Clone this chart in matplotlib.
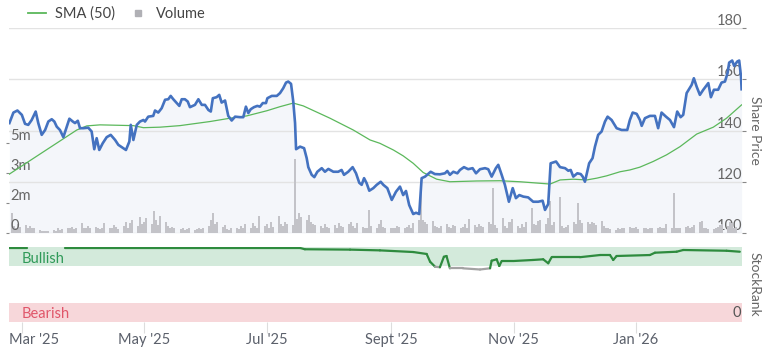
import numpy as np
import pandas as pd
import matplotlib
matplotlib.use("Agg")
import matplotlib.pyplot as plt
import matplotlib.dates as mdates
from matplotlib.collections import LineCollection
from matplotlib.lines import Line2D

plt.rcParams['font.family'] = ['Lato', 'DejaVu Sans']

# day offsets are counted from 1 Mar 2025
start = pd.Timestamp('2025-03-01')

price_day = [-6.3, -4.3, -2.3, -0.1, 1.5, 3.1, 4.8, 6.8, 8.1, 9.8, 11.5, 13.1, 14.8, 16.1, 17.3, 18.9,
             20.6, 22.3, 23.6, 25.3, 26.4, 27.8, 28.9, 30.6, 33.0, 34.7, 36.0, 37.2, 38.5, 40.2, 42.2,
             44.2, 46.4, 48.0, 49.7, 51.8, 53.5, 54.2, 55.5, 57.2, 58.8, 60.5, 61.3, 62.9, 65.4, 66.3,
             67.9, 69.6, 71.3, 72.9, 74.1, 75.4, 77.1, 78.4, 79.6, 81.2, 82.6, 83.7, 86.2, 87.9, 89.6,
             91.2, 92.9, 94.1, 95.1, 97.0, 98.3, 99.5, 101.2, 102.8, 104.5, 106.2, 108.7, 110.3, 111.6,
             112.8, 114.0, 115.6, 117.3, 118.6, 120.0, 121.6, 122.3, 124.5, 127.0, 128.6, 130.2, 131.6,
             132.7, 134.1, 135.2, 136.1, 136.6, 138.6, 140.6, 141.9, 142.7, 144.4, 145.7, 147.2, 149.4,
             151.0, 152.7, 155.2, 157.6, 159.3, 160.5, 162.6, 164.8, 166.5, 168.1, 169.3, 170.5, 171.8,
             173.1, 175.1, 176.8, 178.8, 180.1, 182.1, 184.3, 186.4, 188.4, 190.0, 191.4, 193.0, 195.0,
             196.4, 198.0, 199.2, 200.9, 203.7, 205.8, 208.3, 210.8, 212.0, 213.3, 215.0, 217.0, 218.3,
             220.3, 222.4, 224.6, 226.3, 228.3, 230.8, 232.4, 234.1, 236.2, 237.4, 239.1, 240.7, 242.7,
             244.6, 246.2, 247.9, 249.9, 252.3, 254.8, 257.3, 259.5, 260.7, 262.3, 263.5, 266.2, 268.2,
             270.7, 272.3, 273.5, 274.8, 276.8, 278.5, 279.5, 280.6, 282.7, 284.4, 285.6, 287.2, 288.9,
             290.6, 291.9, 293.9, 296.4, 298.9, 301.7, 303.0, 304.4, 306.4, 308.0, 308.9, 310.5, 313.0,
             315.5, 317.1, 318.8, 321.0, 323.0, 325.0, 326.6, 328.3, 329.6, 331.3, 333.8, 334.9, 336.3,
             337.9, 339.6, 342.1, 343.4, 344.9, 347.0, 348.7, 350.4, 351.7, 352.5, 354.0, 355.0, 356.5,
             357.5, 358.4, 358.7]
price = [142.9, 147.0, 147.8, 146.1, 142.6, 142.2, 144.1, 147.4, 142.9, 138.3, 140.2, 143.5, 144.4, 143.5,
         141.5, 140.2, 137.4, 141.5, 144.6, 143.5, 142.9, 143.8, 140.9, 140.9, 141.1, 139.6, 132.7, 137.0,
         132.4, 135.0, 137.4, 138.3, 136.3, 134.4, 133.5, 132.4, 135.7, 142.2, 136.3, 142.2, 143.5, 144.1,
         143.5, 145.4, 145.7, 147.8, 147.0, 148.7, 152.0, 152.2, 153.5, 152.2, 150.7, 149.6, 152.2, 152.2,
         151.3, 149.1, 150.0, 152.2, 150.0, 150.0, 148.0, 147.4, 152.6, 153.0, 153.9, 150.9, 151.7, 145.7,
         143.9, 145.4, 145.2, 145.2, 149.3, 146.8, 148.3, 149.1, 149.6, 149.3, 150.7, 150.7, 152.6, 153.5,
         153.5, 154.6, 156.5, 158.7, 159.1, 158.2, 151.3, 142.9, 132.7, 133.7, 133.1, 129.2, 125.7, 122.7,
         121.8, 123.9, 125.3, 123.9, 125.0, 123.9, 123.9, 124.6, 122.7, 123.9, 125.7, 123.3, 119.6, 118.8,
         121.4, 119.4, 116.5, 117.5, 118.8, 120.0, 118.8, 117.5, 112.9, 116.1, 118.1, 114.8, 116.4, 110.9,
         107.4, 107.9, 107.4, 121.4, 122.0, 123.9, 123.0, 122.9, 123.3, 124.2, 122.7, 123.9, 123.3, 124.6,
         125.7, 124.9, 125.3, 123.3, 124.9, 125.3, 124.9, 122.0, 125.3, 126.6, 122.7, 118.8, 112.2, 117.5,
         113.6, 114.8, 114.2, 113.9, 112.2, 112.2, 112.6, 109.0, 111.3, 127.2, 127.9, 125.7, 125.3, 124.3,
         124.6, 122.0, 123.3, 123.0, 122.0, 120.0, 127.2, 129.2, 133.7, 138.3, 139.6, 143.5, 145.4, 144.1,
         140.9, 140.2, 140.2, 144.1, 147.0, 146.5, 144.1, 141.8, 144.8, 145.7, 145.7, 140.9, 147.0, 145.4,
         144.1, 141.3, 147.4, 145.2, 146.1, 154.6, 157.8, 160.4, 157.1, 153.9, 155.9, 158.5, 153.0, 155.9,
         155.9, 158.7, 159.1, 162.4, 166.5, 167.3, 165.2, 166.9, 167.3, 161.1, 156.1]

sma_day = [-6.3, 27.3, 32.3, 38.9, 55.5, 60.5, 68.8, 78.7, 93.7, 103.7, 112.0, 122.0, 128.6, 135.2, 140.2,
           153.5, 165.1, 173.5, 178.4, 185.1, 190.0, 195.0, 200.0, 206.7, 213.3, 226.6, 238.2, 248.2,
           258.2, 263.2, 268.2, 274.8, 281.5, 286.5, 291.4, 298.1, 303.0, 308.0, 314.6, 321.3, 328.0,
           336.3, 344.6, 351.2, 358.7]
sma = [123.0, 140.2, 141.8, 142.2, 141.9, 141.1, 141.3, 141.9, 143.5, 144.8, 145.7, 147.7, 149.3, 150.7,
       149.6, 144.8, 140.2, 136.3, 135.0, 132.4, 130.1, 127.2, 123.6, 121.0, 120.0, 120.3, 120.4, 120.0,
       119.4, 119.1, 120.7, 121.0, 120.7, 121.4, 122.3, 123.9, 124.6, 125.7, 127.9, 130.5, 133.7, 138.6,
       141.3, 144.8, 150.0]

# daily volume in millions, trading days from 24 Feb 2025
vol_start = '2025-02-24'
volume = [1.1, 0.4, 0.3, 0.5, 0.35, 0.45, 0.3, 0.4, 0.25, 0.3,
          0.15, 0.12, 0.1, 0.12, 0.1, 0.15, 0.12, 0.25, 0.15, 0.2,
          0.3, 0.25, 0.35, 0.2, 0.3, 0.55, 0.3, 0.25, 0.4, 0.3,
          0.35, 0.3, 0.2, 0.3, 0.55, 0.25, 0.3, 0.45, 0.35, 0.2,
          0.4, 0.6, 0.3, 0.55, 0.7, 0.4, 0.9, 0.5, 0.6, 0.85,
          0.5, 1.2, 0.7, 0.45, 0.95, 0.6, 0.4, 0.3, 0.35, 0.25,
          0.2, 0.3, 0.15, 0.2, 0.25, 0.15, 0.2, 0.3, 0.2, 0.25,
          0.4, 0.7, 1.1, 0.5, 0.6, 0.35, 0.45, 0.2, 0.15, 0.25,
          0.3, 0.2, 0.4, 0.25, 0.5, 0.3, 0.55, 0.4, 0.3, 0.95,
          0.4, 0.5, 0.3, 0.6, 0.35, 0.95, 0.5, 0.4, 0.6, 0.5,
          0.45, 4.1, 0.8, 1.1, 0.9, 0.7, 1.0, 0.6, 0.5, 0.45,
          0.4, 0.3, 0.5, 0.35, 0.3, 0.45, 0.3, 0.55, 0.4, 0.35,
          0.5, 0.6, 0.4, 0.3, 0.55, 0.35, 0.3, 0.25, 1.3, 0.4,
          0.3, 0.5, 0.7, 0.35, 0.25, 0.3, 0.25, 0.3, 0.4, 0.35,
          0.3, 0.35, 0.45, 0.3, 0.55, 0.7, 2.3, 0.7, 0.6, 0.5,
          0.65, 0.4, 0.35, 0.3, 0.4, 0.5, 0.35, 0.3, 0.45, 0.4,
          0.3, 0.35, 0.5, 0.3, 0.8, 0.45, 0.35, 0.5, 0.4, 0.35,
          0.6, 0.5, 2.5, 0.45, 0.3, 0.85, 0.4, 0.3, 0.6, 0.75,
          0.4, 0.3, 0.5, 0.35, 0.6, 1.4, 0.5, 0.45, 0.65, 0.7,
          0.5, 0.85, 1.8, 0.45, 0.6, 2.0, 0.4, 0.3, 0.35, 0.45,
          0.6, 0.5, 1.65, 0.7, 0.55, 0.6, 0.5, 0.6, 0.55, 0.45,
          0.65, 0.4, 0.3, 0.25, 0.2, 0.15, 0.25, 0.2, 0.3, 0.25,
          0.35, 0.3, 0.25, 0.35, 0.2, 0.3, 0.25, 0.2, 0.3, 0.25,
          0.3, 0.35, 0.3, 0.25, 0.5, 0.3, 2.2, 0.3, 0.25, 0.3,
          0.35, 0.4, 0.3, 0.35, 0.45, 0.6, 0.65, 0.3, 0.25, 0.2,
          0.2, 0.3, 0.35, 0.45, 0.5, 0.4, 0.6, 0.55, 0.3, 0.35]

rank_day = [-6.3, 2.5, 3.5, 20.5, 21.4, 138.6, 141.0, 163.5, 178.4, 195.0, 201.7, 203.4, 205.9, 208.3,
            210.3, 211.6, 213.3, 219.8, 228.3, 233.3, 234.1, 236.6, 237.9, 239.1, 244.9, 254.7, 259.8,
            262.3, 264.0, 278.1, 288.1, 293.1, 294.7, 296.4, 313.0, 315.5, 326.3, 329.6, 351.2, 357.8]
rank = [98.7, 98.7, np.nan, np.nan, 98.7, 98.7, 97.0, 96.5, 95.5, 93.3, 90.7, 80.4, 73.7, 73.0,
        87.0, 88.0, 71.6, 71.6, 70.0, 71.6, 81.7, 83.6, 74.7, 81.3, 81.3, 82.7, 83.6,
        78.3, 86.4, 86.4, 89.3, 89.3, 82.7, 88.0, 89.3, 92.4, 93.7, 96.0, 95.0, 93.7]

month_ticks = ['2025-03-01', '2025-05-01', '2025-07-01', '2025-09-01', '2025-11-01', '2026-01-01']
month_labels = ["Mar '25", "May '25", "Jul '25", "Sept '25", "Nov '25", "Jan '26"]
price_ticks = [100, 120, 140, 160, 180]
vol_ticks = [0, 1.67, 3.33, 5.0]
vol_labels = ['0', '2m', '3m', '5m']


def to_dates(days):
    return start + pd.to_timedelta(np.asarray(days, dtype=float), unit='D')


blue = '#4472c0'
green_sma = '#5bb85b'
grey_bar = '#c3c3c8'
txt = '#666666'

W, H = 763, 353
fig = plt.figure(figsize=(W / 100, H / 100), dpi=100)
main_rect = [9 / W, (H - 233) / H, (742 - 9) / W, (233 - 28) / H]
rank_rect = [9 / W, (H - 322) / H, (742 - 9) / W, 75 / H]

xlim = (mdates.date2num(to_dates([-6.5])[0]), mdates.date2num(to_dates([358.9])[0]))

# background layer: fill + gridlines on the price scale
ax_bg = fig.add_axes(main_rect)
ax_bg.fill_between(to_dates(price_day), price, 100, color='#f4f6fa', lw=0)
ax_bg.set_ylim(100, 180)
ax_bg.set_xlim(xlim)
ax_bg.set_yticks(price_ticks)
ax_bg.yaxis.tick_right()
ax_bg.tick_params(axis='y', length=3, color='#888888', labelright=False)
ax_bg.grid(axis='y', color='#e3e3e3', lw=1)
ax_bg.set_xticks([])
for s in ax_bg.spines.values():
    s.set_visible(False)
ax_bg.patch.set_visible(False)
for t in price_ticks:
    ax_bg.text(1.0, t, str(t), transform=ax_bg.get_yaxis_transform(), ha='right', va='bottom',
               fontsize=10.5, color=txt)
ax_bg.text(1.0175, 0.5, 'Share Price', transform=ax_bg.transAxes, rotation=270, ha='center',
           va='center', fontsize=10, color=txt)

# volume layer
ax_v = fig.add_axes(main_rect, zorder=1)
ax_v.bar(pd.bdate_range(vol_start, periods=len(volume)), volume, width=1.0, color=grey_bar, lw=0)
ax_v.set_ylim(0, 11.38)
ax_v.set_xlim(xlim)
ax_v.set_yticks(vol_ticks)
ax_v.tick_params(axis='y', length=2, color='#888888', labelleft=False)
ax_v.set_xticks([])
for s in ax_v.spines.values():
    s.set_visible(False)
ax_v.patch.set_visible(False)
for v, lab in zip(vol_ticks, vol_labels):
    ax_v.text(0.002, v, lab, transform=ax_v.get_yaxis_transform(), ha='left', va='bottom',
              fontsize=10.5, color=txt)

# line layer
ax_l = fig.add_axes(main_rect, zorder=2)
ax_l.plot(to_dates(sma_day), sma, color=green_sma, lw=0.9)
ax_l.plot(to_dates(price_day), price, color=blue, lw=1.9, solid_joinstyle='round')
ax_l.set_ylim(100, 180)
ax_l.set_xlim(xlim)
ax_l.axis('off')

# legend
handles = [Line2D([], [], color=green_sma, lw=1.3),
           Line2D([], [], marker='s', ls='', color='#b0b0b5', ms=5)]
fig.legend(handles, ['SMA (50)', 'Volume'], loc='upper left', bbox_to_anchor=(0.02, 1.018),
           ncol=2, frameon=False, fontsize=10.5, handlelength=1.2, handletextpad=0.6,
           columnspacing=1.0, labelcolor='#444444')

# StockRank panel
ax_r = fig.add_axes(rank_rect)
ax_r.axhspan(75, 100, color='#d3eadb', lw=0)
ax_r.axhspan(0, 25, color='#f7d7da', lw=0)
rx = mdates.date2num(to_dates(rank_day))
ry = np.asarray(rank, dtype=float)
segs, cols = [], []
for i in range(len(rx) - 1):
    if np.isnan(ry[i]) or np.isnan(ry[i + 1]):
        continue
    segs.append([(rx[i], ry[i]), (rx[i + 1], ry[i + 1])])
    cols.append('#a3a3a3' if (ry[i] + ry[i + 1]) / 2 < 76 else '#2e8b3e')
ax_r.add_collection(LineCollection(segs, colors=cols, lw=1.6, capstyle='round'))
ax_r.set_ylim(0, 100)
ax_r.set_xlim(xlim)
ax_r.set_yticks([])
ax_r.set_xticks(mdates.date2num(pd.to_datetime(month_ticks)))
ax_r.tick_params(axis='x', length=8, color='#dddddd', labelbottom=False)
for s in ax_r.spines.values():
    s.set_visible(False)
ax_r.patch.set_visible(False)
ax_r.text(0.017, 84, 'Bullish', transform=ax_r.get_yaxis_transform(), ha='left', va='center',
          fontsize=10.5, color='#2f9a58')
ax_r.text(0.017, 10, 'Bearish', transform=ax_r.get_yaxis_transform(), ha='left', va='center',
          fontsize=10.5, color='#e0566a')
ax_r.text(0.998, 12, '0', transform=ax_r.get_yaxis_transform(), ha='right', va='center',
          fontsize=10.5, color='#555555')
ax_r.text(1.0175, 0.5, 'StockRank', transform=ax_r.transAxes, rotation=270, ha='center',
          va='center', fontsize=10, color=txt)

for i, (d, lab) in enumerate(zip(month_ticks, month_labels)):
    if i == 0:
        ax_r.text(xlim[0], -0.24, lab, transform=ax_r.get_xaxis_transform(), ha='left',
                  va='center', fontsize=10.5, color='#5b606b')
    else:
        ax_r.text(mdates.date2num(pd.Timestamp(d)), -0.24, lab, transform=ax_r.get_xaxis_transform(),
                  ha='center', va='center', fontsize=10.5, color='#5b606b')

fig.savefig('out.png', dpi=100)
